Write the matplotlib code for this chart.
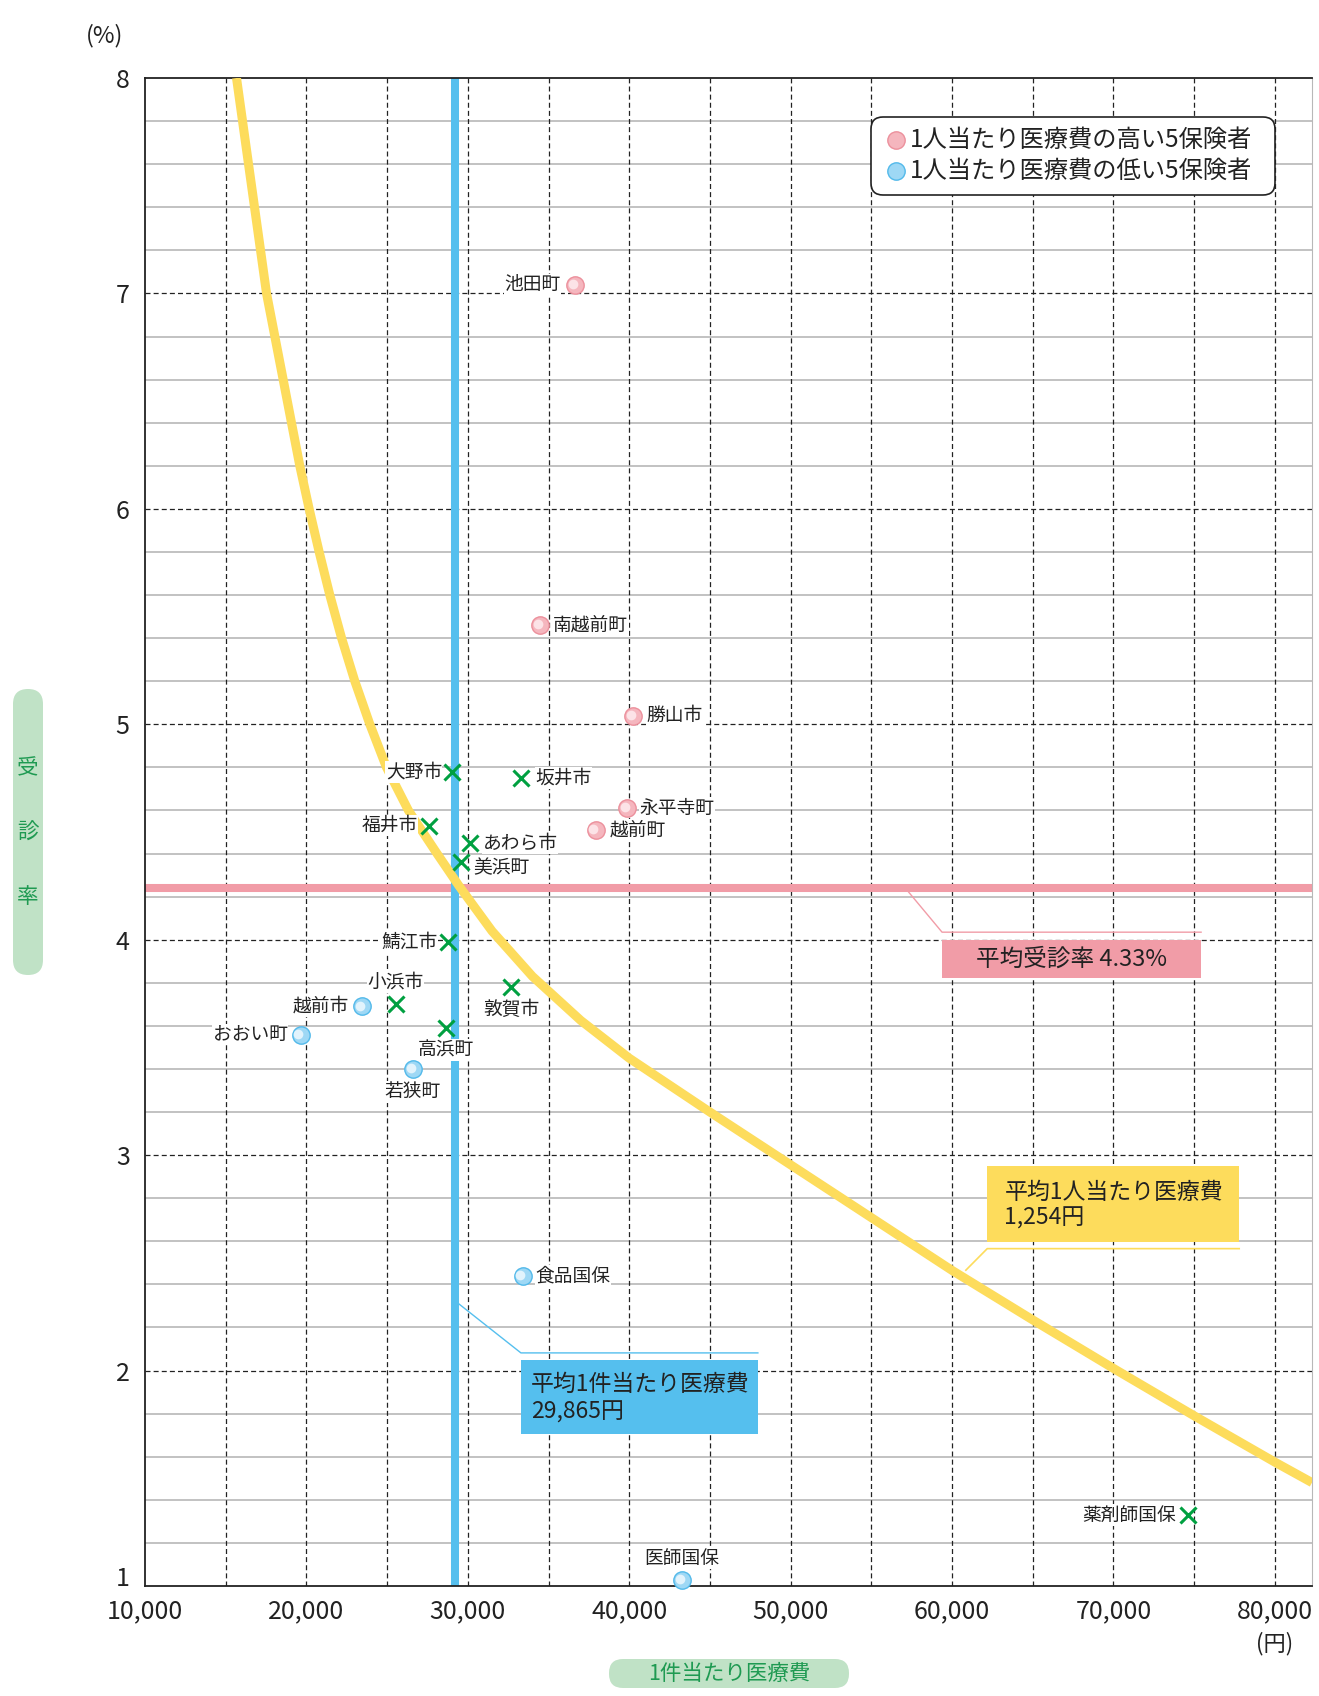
import numpy as np
import matplotlib.pyplot as plt
from matplotlib.patches import FancyBboxPatch, Rectangle
from matplotlib.lines import Line2D
from matplotlib.transforms import IdentityTransform, offset_copy

plt.rcParams['font.family'] = ['Noto Sans CJK JP', 'DejaVu Sans']

W, H = 1319, 1696

# 1人当たり医療費の高い5保険者
high_names = ['池田町', '南越前町', '勝山市', '永平寺町', '越前町']
high_x = [36640, 34490, 40250, 39890, 37920]
high_y = [7.04, 5.46, 5.04, 4.61, 4.51]

# 1人当たり医療費の低い5保険者
low_names = ['越前市', 'おおい町', '若狭町', '食品国保', '医師国保']
low_x = [23470, 19640, 26590, 33390, 43260]
low_y = [3.69, 3.56, 3.40, 2.44, 1.03]

# その他の保険者
other_names = ['大野市', '坂井市', '福井市', 'あわら市', '美浜町', '鯖江市',
               '小浜市', '敦賀市', '高浜町', '薬剤師国保']
other_x = [29020, 33300, 27580, 30110, 29580, 28760, 25550, 32680, 28620, 74600]
other_y = [4.78, 4.75, 4.53, 4.45, 4.36, 3.99, 3.70, 3.78, 3.59, 1.33]

# 平均線 (図上の位置)
avg_cost_x = 29200
avg_rate_y = 4.24

# 平均1人当たり医療費の曲線
curve_x = [15670, 17530, 18560, 19590, 20170, 20790, 21450, 22180, 23000, 23930,
           24960, 26320, 28090, 29450, 31500, 34000, 37000, 40000, 45000,
           50000, 55000, 60000, 65000, 70000, 75000, 80000, 82300]
curve_y = [8.0, 7.0, 6.6, 6.2, 6.0, 5.8, 5.6, 5.4, 5.2, 5.0,
           4.8, 4.6, 4.4, 4.25, 4.04, 3.83, 3.625, 3.45, 3.20,
           2.955, 2.71, 2.465, 2.235, 2.01, 1.79, 1.575, 1.48]

xticks = [10000, 20000, 30000, 40000, 50000, 60000, 70000, 80000]
yticks = [1, 2, 3, 4, 5, 6, 7, 8]

legend_labels = ['1人当たり医療費の高い5保険者', '1人当たり医療費の低い5保険者']

# ラベルの位置 (px, px, 揃え)
label_pos = {
    '池田町': (-14, 0, 'right'), '南越前町': (13, 0, 'left'), '勝山市': (13, 0, 'left'),
    '永平寺町': (12, 0, 'left'), '越前町': (14, 0, 'left'),
    '越前市': (-14, 0, 'right'), 'おおい町': (-13, 0, 'right'), '若狭町': (0, -23, 'center'),
    '食品国保': (13, 0, 'left'), '医師国保': (0, 21, 'center'),
    '大野市': (-10, 0, 'right'), '坂井市': (14, 0, 'left'), '福井市': (-11, 0, 'right'),
    'あわら市': (13, 0, 'left'), '美浜町': (12, -6, 'left'), '鯖江市': (-10, 0, 'right'),
    '小浜市': (0, 22, 'center'), '敦賀市': (0, -22, 'center'), '高浜町': (0, -22, 'center'),
    '薬剤師国保': (-12, 0, 'right'),
}

pink_face, pink_edge = '#f5b6be', '#ec909c'
blue_face, blue_edge = '#9ed8f5', '#52b9ea'

fig = plt.figure(figsize=(W / 100, H / 100), dpi=100)
ax = fig.add_axes([145 / W, 1 - 1586 / H, (1312 - 145) / W, (1586 - 78) / H])
ax.set_xlim(10000, 82300)
ax.set_ylim(1, 8)

# グリッド
for v in np.arange(1.2, 8.0, 0.2):
    if abs(v - round(v)) > 0.01:
        ax.axhline(v, color='#b8b8b8', lw=1.2, zorder=1)
for v in range(2, 8):
    ax.axhline(v, color='#222222', lw=0.9, ls=(0, (4, 2.5)), zorder=1.5)
for v in range(15000, 82000, 5000):
    ax.axvline(v, color='#222222', lw=0.9, ls=(0, (4, 2.5)), zorder=1.5)

# 平均線と曲線
ax.axhline(avg_rate_y, color='#f19ca7', lw=5.8, zorder=2)
ax.axvline(avg_cost_x, color='#55bfee', lw=5.8, zorder=2.2)
ax.plot(curve_x, curve_y, color='#fddc5c', lw=6.5, solid_capstyle='butt',
        solid_joinstyle='round', zorder=3)

# 点
ax.plot(high_x, high_y, 'o', ms=12.5, mfc=pink_face, mec=pink_edge, mew=1, zorder=5, clip_on=False)
ax.plot(low_x, low_y, 'o', ms=12.5, mfc=blue_face, mec=blue_edge, mew=1, zorder=5, clip_on=False)
hl = offset_copy(ax.transData, fig=fig, x=-1.6, y=0.6, units='points')
ax.plot(high_x, high_y, 'o', ms=7, mfc='#fde9ec', mec='none', alpha=0.9, transform=hl, zorder=5.1, clip_on=False)
ax.plot(low_x, low_y, 'o', ms=7, mfc='#eaf7fd', mec='none', alpha=0.9, transform=hl, zorder=5.1, clip_on=False)
ax.plot(other_x, other_y, 'x', ms=12, mec='#00a040', mew=2.2, zorder=5)

names = high_names + low_names + other_names
xs = high_x + low_x + other_x
ys = high_y + low_y + other_y
for n, x, y in zip(names, xs, ys):
    dx, dy, ha = label_pos[n]
    ax.annotate(n, (x, y), xytext=(dx * 0.72, dy * 0.72), textcoords='offset points',
                ha=ha, va='center', fontsize=13.5, color='#222222', zorder=6,
                bbox=dict(fc='white', ec='none', pad=0.3))

# 平均受診率の吹き出し
ax.plot([57300, 59380, 75430], [4.222, 4.035, 4.035], color='#f19ca7', lw=1, zorder=4)
ax.add_patch(Rectangle((59380, 3.82), 75430 - 59380, 3.998 - 3.82, fc='#f19ca7', ec='none', zorder=4))
ax.text((59380 + 75430) / 2, 3.909, '平均受診率 4.33%', ha='center', va='center', fontsize=17, color='#222222', zorder=4.5)

# 平均1人当たり医療費の吹き出し
ax.plot([60855, 62180, 77790], [2.466, 2.566, 2.566], color='#fddc5c', lw=1.2, zorder=4)
ax.add_patch(Rectangle((62180, 2.599), 77790 - 62180, 2.949 - 2.599, fc='#fddc5c', ec='none', zorder=4))
ax.text(63240, 2.829, '平均1人当たり医療費', ha='left', va='center', fontsize=16.5, color='#222222', zorder=4.5)
ax.text(63240, 2.706, '1,254円', ha='left', va='center', fontsize=16.5, color='#222222', zorder=4.5)

# 平均1件当たり医療費の吹き出し
ax.plot([29420, 33290, 47970], [2.311, 2.082, 2.082], color='#55bfee', lw=1, zorder=4)
ax.add_patch(Rectangle((33290, 1.707), 47970 - 33290, 2.048 - 1.707, fc='#55bfee', ec='none', zorder=4))
ax.text(33910, 1.936, '平均1件当たり医療費', ha='left', va='center', fontsize=16.5, color='#222222', zorder=4.5)
ax.text(33910, 1.808, '29,865円', ha='left', va='center', fontsize=16.5, color='#222222', zorder=4.5)

# 軸
ax.set_xticks(xticks)
ax.set_xticklabels(['{:,}'.format(v) for v in xticks])
ax.set_yticks(yticks)
ax.set_yticklabels([str(v) for v in yticks])
ax.tick_params(length=0, labelsize=18, colors='#222222')
ax.tick_params(axis='x', pad=9)
ax.tick_params(axis='y', pad=11)
# 下端の「1」は少し上へ
ax.get_yticklabels()[0].set_va('bottom')
ax.get_yticklabels()[0].set_transform(
    ax.get_yaxis_text1_transform(11)[0] + offset_copy(IdentityTransform(), fig=fig, y=-6, units='dots'))
for s in ['left', 'bottom', 'top']:
    ax.spines[s].set_color('#222222')
    ax.spines[s].set_linewidth(1.3)
ax.spines['right'].set_color('#b8b8b8')

# 凡例 (角丸の枠)
px = IdentityTransform()
fig.add_artist(FancyBboxPatch((871, H - 195), 404, 78, boxstyle='round,pad=0,rounding_size=12',
                              fc='white', ec='#222222', lw=1.2, transform=px, zorder=7))
for lab, yy, fc, ec in zip(legend_labels, [139.6, 171], [pink_face, blue_face], [pink_edge, blue_edge]):
    fig.add_artist(Line2D([896], [H - yy], marker='o', ls='', ms=12.5, mfc=fc, mec=ec,
                          transform=px, zorder=8))
    fig.text(910 / W, 1 - yy / H, lab, ha='left', va='center', fontsize=17.5,
             color='#222222', zorder=8)

# 単位
fig.text(105 / W, 1 - 36 / H, '(%)', ha='center', va='center', fontsize=17, color='#222222')
fig.text(1275 / W, 1 - 1644 / H, '(円)', ha='center', va='center', fontsize=16, color='#222222')

# 軸タイトル (緑の丸枠)
fig.add_artist(FancyBboxPatch((13, H - 975), 30, 286, boxstyle='round,pad=0,rounding_size=15',
                              fc='#c0e2c6', ec='none', transform=px))
for ch, yy in zip('受診率', [768, 833, 897]):
    fig.text(28 / W, 1 - yy / H, ch, ha='center', va='center', fontsize=15.5, color='#1f9a52')
fig.add_artist(FancyBboxPatch((609, H - 1688), 240, 29, boxstyle='round,pad=0,rounding_size=14',
                              fc='#c0e2c6', ec='none', transform=px))
fig.text(729 / W, 1 - 1674 / H, '1件当たり医療費', ha='center', va='center', fontsize=15.5, color='#1f9a52')

fig.savefig('out.png', dpi=100)
